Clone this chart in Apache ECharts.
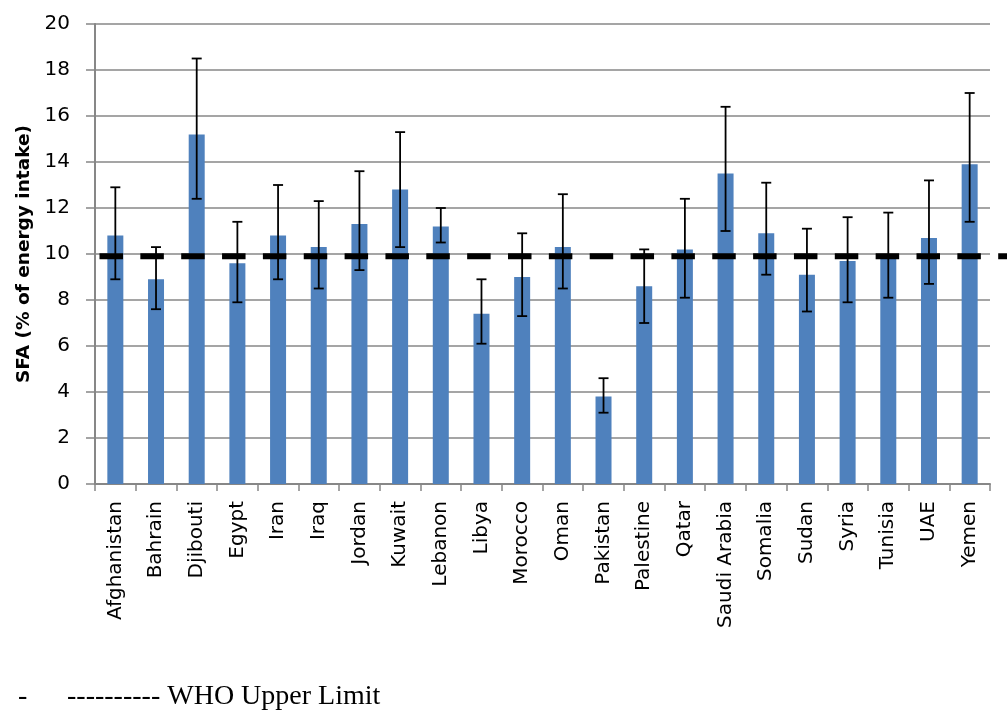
<!DOCTYPE html>
<html>
<head>
<meta charset="utf-8">
<script src="https://cdn.jsdelivr.net/npm/echarts@6/dist/echarts.min.js"></script>
<style>
  html, body { margin: 0; padding: 0; background: #fff; }
  #chart { width: 1007px; height: 711px; }
</style>
</head>
<body>
<div id="chart"></div>
<script>
// Saturated fatty acid intake by country (% of energy intake)
const countries = ['Afghanistan', 'Bahrain', 'Djibouti', 'Egypt', 'Iran', 'Iraq', 'Jordan', 'Kuwait',
  'Lebanon', 'Libya', 'Morocco', 'Oman', 'Pakistan', 'Palestine', 'Qatar', 'Saudi Arabia',
  'Somalia', 'Sudan', 'Syria', 'Tunisia', 'UAE', 'Yemen'];
const sfaMean = [10.8, 8.9, 15.2, 9.6, 10.8, 10.3, 11.3, 12.8, 11.2, 7.4, 9.0, 10.3, 3.8, 8.6,
  10.2, 13.5, 10.9, 9.1, 9.7, 9.9, 10.7, 13.9];
const errLow = [8.9, 7.6, 12.4, 7.9, 8.9, 8.5, 9.3, 10.3, 10.5, 6.1, 7.3, 8.5, 3.1, 7.0,
  8.1, 11.0, 9.1, 7.5, 7.9, 8.1, 8.7, 11.4];
const errHigh = [12.9, 10.3, 18.5, 11.4, 13.0, 12.3, 13.6, 15.3, 12.0, 8.9, 10.9, 12.6, 4.6, 10.2,
  12.4, 16.4, 13.1, 11.1, 11.6, 11.8, 13.2, 17.0];
const yTicks = [0, 2, 4, 6, 8, 10, 12, 14, 16, 18, 20];
const whoUpperLimit = 9.9;
const legendText = '---------- WHO Upper Limit';

const chart = echarts.init(document.getElementById('chart'), null, { renderer: 'canvas' });

const gridColor = '#878787';
const errorData = countries.map((c, i) => [i, errLow[i], errHigh[i]]);

chart.setOption({
  animation: false,
  backgroundColor: '#ffffff',
  grid: { left: 95, right: 17, top: 24, bottom: 227, containLabel: false },
  xAxis: {
    type: 'category',
    data: countries,
    boundaryGap: true,
    axisLine: { show: true, lineStyle: { color: gridColor, width: 2 } },
    axisTick: { show: true, length: 7, lineStyle: { color: gridColor, width: 1.5 } },
    axisLabel: {
      rotate: 90, margin: 17, interval: 0,
      fontFamily: 'DejaVu Sans', fontSize: 20, color: '#000'
    },
    splitLine: { show: false }
  },
  yAxis: {
    type: 'value',
    min: yTicks[0], max: yTicks[yTicks.length - 1], interval: yTicks[1] - yTicks[0],
    name: 'SFA (% of energy intake)',
    nameLocation: 'middle',
    nameGap: 61,
    nameTextStyle: { fontFamily: 'DejaVu Sans', fontWeight: 'bold', fontSize: 18.5, color: '#000' },
    axisLine: { show: true, lineStyle: { color: gridColor, width: 2 } },
    axisTick: { show: true, length: 9, lineStyle: { color: gridColor, width: 1.5 } },
    axisLabel: { margin: 25, fontFamily: 'DejaVu Sans', fontSize: 20, color: '#000' },
    splitLine: { show: true, lineStyle: { color: gridColor, width: 1.6 } }
  },
  series: [
    {
      name: 'SFA',
      type: 'bar',
      data: sfaMean,
      barWidth: 16,
      itemStyle: { color: '#4F81BD' },
      z: 2
    },
    {
      name: 'WHO Upper Limit',
      type: 'custom',
      data: [[0, whoUpperLimit]],
      encode: { x: 0, y: 1 },
      z: 3,
      renderItem: function (params, api) {
        const cs = params.coordSys;
        const y = api.coord([0, api.value(1)])[1];
        const period = 40.85;
        return {
          type: 'line',
          shape: { x1: cs.x + 4.5, y1: y, x2: cs.x + cs.width + 22, y2: y },
          style: { stroke: '#000', lineWidth: 6, lineDash: [23.5, period - 23.5] }
        };
      }
    },
    {
      name: 'Error',
      type: 'custom',
      data: errorData,
      encode: { x: 0, y: [1, 2] },
      z: 4,
      renderItem: function (params, api) {
        const x = api.value(0);
        const lo = api.coord([x, api.value(1)]);
        const hi = api.coord([x, api.value(2)]);
        const half = 5;
        const style = { stroke: '#000', lineWidth: 1.8 };
        return {
          type: 'group',
          children: [
            { type: 'line', shape: { x1: hi[0], y1: hi[1], x2: lo[0], y2: lo[1] }, style: style },
            { type: 'line', shape: { x1: hi[0] - half, y1: hi[1], x2: hi[0] + half, y2: hi[1] }, style: style },
            { type: 'line', shape: { x1: lo[0] - half, y1: lo[1], x2: lo[0] + half, y2: lo[1] }, style: style }
          ]
        };
      }
    }
  ],
  graphic: [
    {
      type: 'text', left: 18, top: 683,
      style: { text: '-', fontFamily: 'Liberation Serif', fontSize: 28, fill: '#000' }
    },
    {
      type: 'text', left: 67, top: 683,
      style: { text: legendText, fontFamily: 'Liberation Serif', fontSize: 28, fill: '#000' }
    }
  ]
});
</script>
</body>
</html>
